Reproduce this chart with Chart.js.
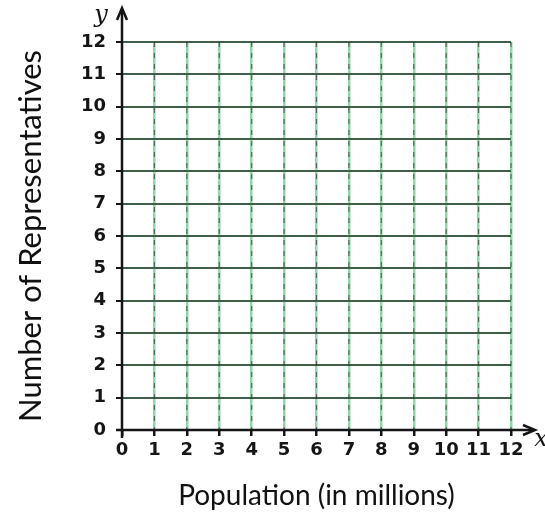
<!DOCTYPE html>
<html>
<head>
<meta charset="utf-8">
<script src="https://cdn.jsdelivr.net/npm/chart.js@4/dist/chart.umd.min.js"></script>
<style>
  html, body { margin: 0; padding: 0; background: #fff; }
  #wrap { width: 545px; height: 519px; }
</style>
</head>
<body>
<div id="wrap"><canvas id="grid"></canvas></div>
<script>
// blank coordinate grid, no points plotted
const xTicks = [0, 1, 2, 3, 4, 5, 6, 7, 8, 9, 10, 11, 12];
const yTicks = [0, 1, 2, 3, 4, 5, 6, 7, 8, 9, 10, 11, 12];
const points = [];
const xTitle = 'Population (in millions)';
const yTitle = 'Number of Representatives';

const ink = '#151515';

// axes with arrows and dashed pencil marks over the green grid
const axesPlugin = {
    id: 'handAxes',
    afterDraw(chart) {
        const ctx = chart.ctx;
        const x = chart.scales.x, y = chart.scales.y;
        const x0 = x.getPixelForValue(0), y0 = y.getPixelForValue(0);
        ctx.save();

        // dark dashes on the vertical lines
        ctx.strokeStyle = 'rgba(30,40,30,0.6)';
        ctx.lineWidth = 1.2;
        ctx.setLineDash([5, 6]);
        xTicks.slice(1).forEach(v => {
            const px = x.getPixelForValue(v);
            ctx.beginPath();
            ctx.moveTo(px, chart.chartArea.top);
            ctx.lineTo(px, chart.chartArea.bottom);
            ctx.stroke();
        });
        ctx.setLineDash([]);

        ctx.strokeStyle = ink;
        ctx.fillStyle = ink;
        ctx.lineWidth = 2.5;
        // y axis
        ctx.beginPath();
        ctx.moveTo(x0, y0 + 8);
        ctx.lineTo(x0, 10);
        ctx.stroke();
        ctx.beginPath();
        ctx.moveTo(x0 - 5, 20);
        ctx.lineTo(x0, 8);
        ctx.lineTo(x0 + 5, 20);
        ctx.stroke();
        // x axis
        ctx.beginPath();
        ctx.moveTo(x0 - 6, y0);
        ctx.lineTo(533, y0);
        ctx.stroke();
        ctx.beginPath();
        ctx.moveTo(523, y0 - 5);
        ctx.lineTo(535, y0);
        ctx.lineTo(523, y0 + 5);
        ctx.stroke();

        ctx.font = 'italic 24px "DejaVu Serif"';
        ctx.textAlign = 'center';
        ctx.textBaseline = 'middle';
        ctx.fillText('y', 101, 16);
        ctx.fillText('x', 541, 440);
        ctx.restore();
    }
};

new Chart(document.getElementById('grid'), {
    type: 'scatter',
    data: {
        datasets: [{ data: points, pointRadius: 0 }]
    },
    options: {
        responsive: true,
        maintainAspectRatio: false,
        animation: false,
        layout: { padding: { top: 42, right: 34, left: 0, bottom: 0 } },
        plugins: {
            legend: { display: false },
            tooltip: { enabled: false }
        },
        scales: {
            x: {
                type: 'linear',
                min: 0,
                max: 12,
                afterBuildTicks: s => { s.ticks = xTicks.map(v => ({ value: v })); },
                afterFit: s => { s.height = 89; },
                grid: {
                    color: c => c.index === 0 ? 'rgba(0,0,0,0)' : '#93d6a6',
                    lineWidth: 2.5,
                    tickLength: 6,
                    tickColor: ink
                },
                border: { display: false },
                ticks: {
                    color: ink,
                    padding: 4,
                    autoSkip: false,
                    maxRotation: 0,
                    minRotation: 0,
                    font: { family: 'DejaVu Sans', size: 18, weight: 'bold' }
                },
                title: {
                    display: true,
                    text: xTitle,
                    color: '#111',
                    font: { family: 'Lato', size: 28 },
                    padding: { bottom: 6 }
                }
            },
            y: {
                type: 'linear',
                min: 0,
                max: 12,
                afterBuildTicks: s => { s.ticks = yTicks.map(v => ({ value: v })); },
                afterFit: s => { s.width = 122; },
                grid: {
                    color: c => c.index === 0 ? 'rgba(0,0,0,0)' : '#3f5f48',
                    lineWidth: 2,
                    tickLength: 6,
                    tickColor: ink
                },
                border: { display: false },
                ticks: {
                    color: ink,
                    padding: 10,
                    autoSkip: false,
                    font: { family: 'DejaVu Sans', size: 18, weight: 'bold' }
                },
                title: {
                    display: true,
                    text: yTitle,
                    color: '#111',
                    font: { family: 'Lato', size: 31 },
                    padding: { top: 12 }
                }
            }
        }
    },
    plugins: [axesPlugin]
});
</script>
</body>
</html>
